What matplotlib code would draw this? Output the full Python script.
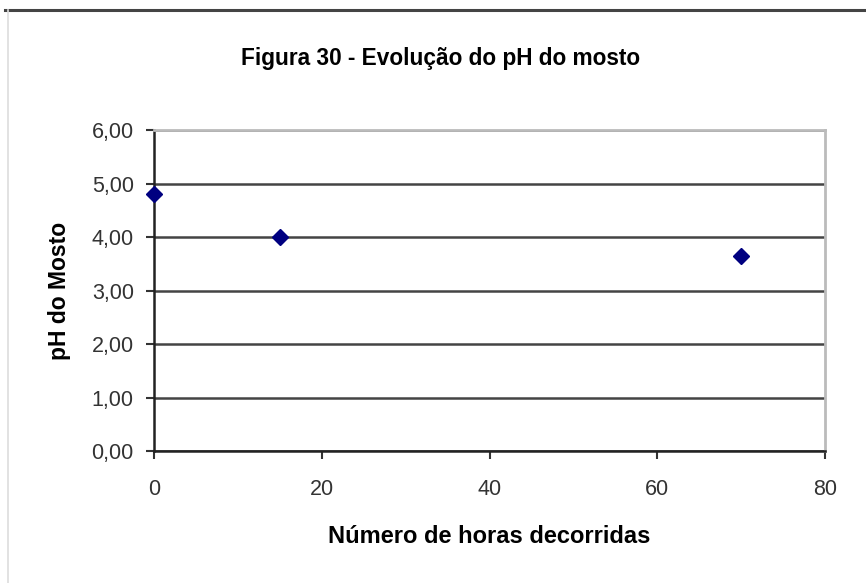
import matplotlib.pyplot as plt
from matplotlib.lines import Line2D

# data
horas = [0, 15, 70]
ph = [4.80, 4.00, 3.65]
x_ticks = [0, 20, 40, 60, 80]
y_ticks = [0, 1, 2, 3, 4, 5, 6]
y_labels = ['0,00', '1,00', '2,00', '3,00', '4,00', '5,00', '6,00']

plt.rcParams['font.family'] = ['Liberation Sans', 'DejaVu Sans']

fig = plt.figure(figsize=(8.66, 5.83), dpi=100)
ax = fig.add_axes([0.1778, 0.2264, 0.7749, 0.5506])

# frame lines around the chart object
fig.add_artist(Line2D([0.006, 1.0], [0.983, 0.983], color='#444444', lw=2.2, transform=fig.transFigure))
fig.add_artist(Line2D([0.0095, 0.0095], [0.0, 0.983], color='#dddddd', lw=1.2, transform=fig.transFigure))

ax.plot(horas, ph, linestyle='none', marker='D', markersize=8, color='#000080', zorder=5, clip_on=False)

ax.set_xlim(0, 80)
ax.set_ylim(0, 6)
ax.set_xticks(x_ticks)
ax.set_yticks(y_ticks)
ax.set_yticklabels(y_labels)
ax.tick_params(axis='both', labelsize=15.5, colors='#333333', length=5.5, width=1.5, direction='out')
ax.tick_params(axis='x', pad=15)
ax.tick_params(axis='y', pad=9)

ax.yaxis.grid(True, color='#444444', linewidth=1.8)
ax.set_axisbelow(True)
for s in ['top', 'right']:
    ax.spines[s].set_color('#bbbbbb')
    ax.spines[s].set_linewidth(2)
ax.spines['left'].set_color('#222222')
ax.spines['left'].set_linewidth(1.8)
ax.spines['bottom'].set_color('#222222')
ax.spines['bottom'].set_linewidth(1.8)

fig.text(441 / 866, 1 - 58 / 583, 'Figura 30 - Evolução do pH do mosto', fontsize=16.3,
         fontweight='bold', ha='center', va='center')
ax.set_xlabel('Número de horas decorridas', fontsize=17, fontweight='bold')
ax.xaxis.set_label_coords(0.5, -(536 - 451) / 321)
ax.set_ylabel('pH do Mosto', fontsize=16.5, fontweight='bold')
ax.yaxis.set_label_coords(-(154 - 60) / 671, 0.5)
ax.xaxis.label.set_va('center')
ax.yaxis.label.set_va('center')

plt.savefig('out.png', dpi=100)
